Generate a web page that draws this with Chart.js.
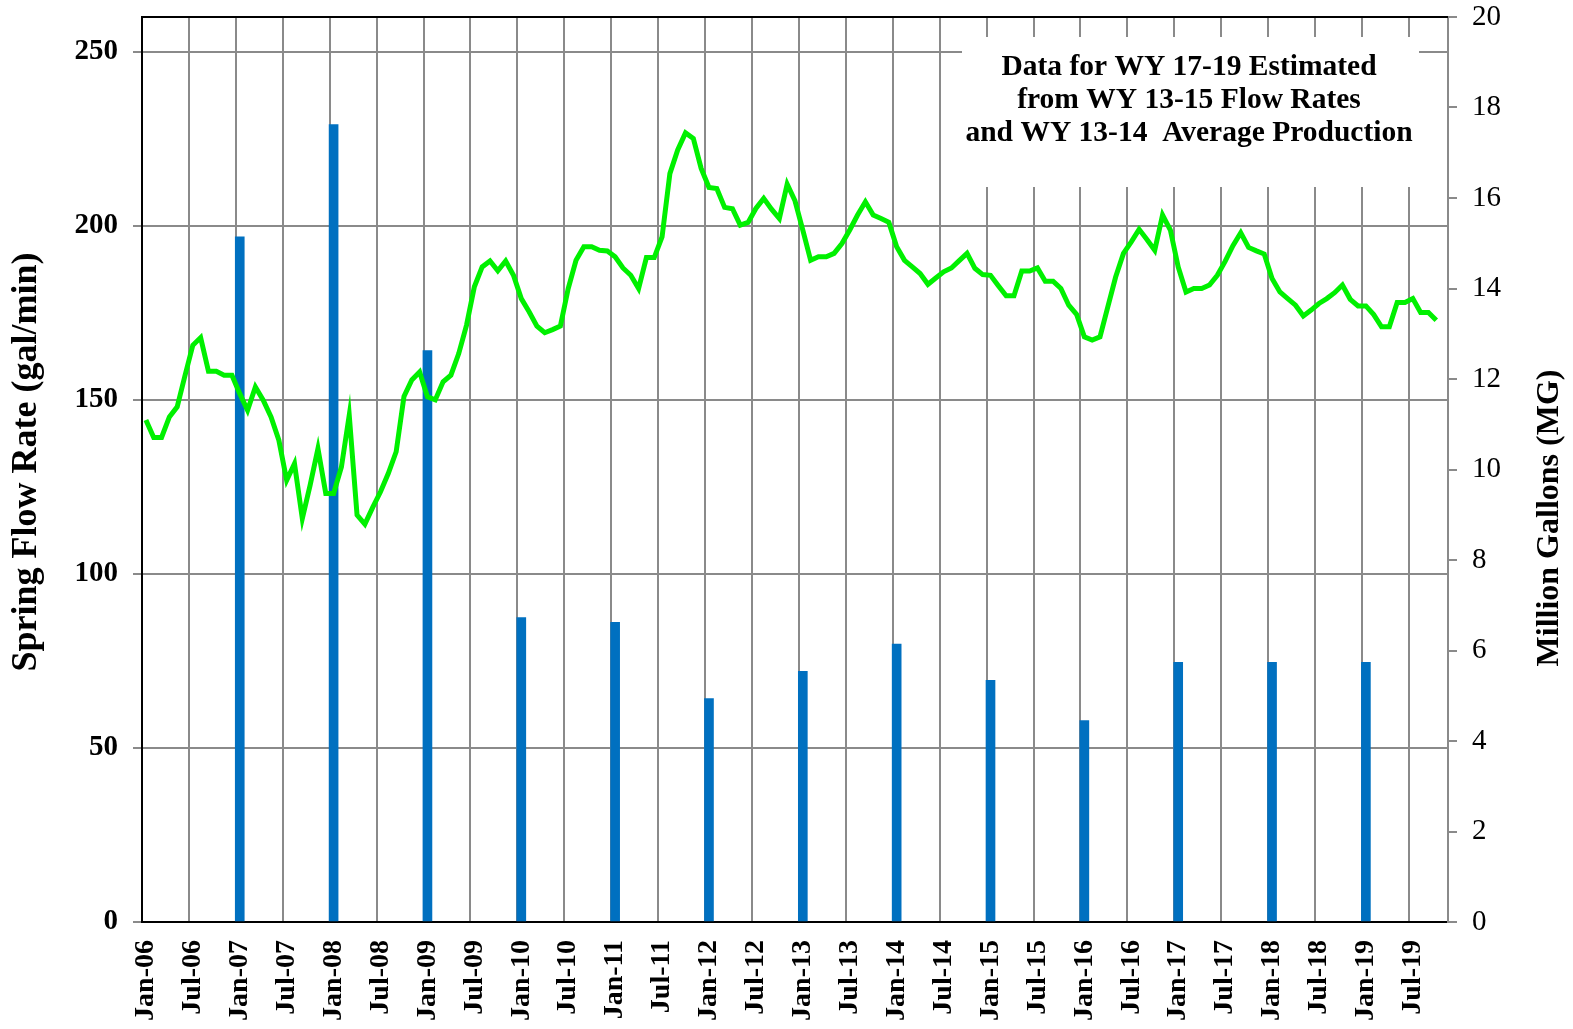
<!DOCTYPE html>
<html>
<head>
<meta charset="utf-8">
<script src="https://cdn.jsdelivr.net/npm/chart.js@4.4.0/dist/chart.umd.min.js"></script>
<style>
  html, body { margin: 0; padding: 0; background: #fff; }
  #wrap { width: 1573px; height: 1029px; position: relative; }
</style>
</head>
<body>
<div id="wrap"><canvas id="chart"></canvas></div>
<script>
// --- data ---
const MONTHS = ["Jan", "Feb", "Mar", "Apr", "May", "Jun", "Jul", "Aug", "Sep", "Oct", "Nov", "Dec"];
const FIRST_YEAR = 2006;
const LAST_YEAR = 2019;
const LAST_MONTH = 10; // Nov-19 closes the axis

// spring flow rate, gal/min, monthly from Jan-06
const flowRate = [
    144.2, 139.2, 139.2, 145.1, 148.0, 157.0, 165.7, 167.9, 158.2, 158.2, 157.1, 157.1,
    151.8, 147.0, 153.7, 149.9, 145.1, 138.4, 126.9, 131.7, 115.9, 125.5, 136.0, 123.1,
    123.1, 130.7, 145.6, 116.9, 114.3, 119.1, 123.6, 128.9, 135.1, 151.0, 155.7, 158.0,
    150.9, 150.0, 155.2, 157.1, 163.3, 171.5, 182.5, 188.2, 189.9, 187.1, 189.9, 185.8,
    179.1, 175.3, 171.2, 169.3, 170.2, 171.2, 182.0, 190.1, 194.0, 194.0, 193.0, 192.8,
    191.1, 187.9, 185.8, 182.0, 190.9, 190.9, 196.8, 215.0, 221.8, 226.7, 225.1, 216.5,
    211.0, 210.7, 205.3, 204.9, 200.2, 201.0, 205.0, 207.9, 204.8, 202.1, 212.0, 207.2,
    198.8, 190.1, 191.1, 191.1, 192.1, 194.9, 198.8, 203.1, 206.9, 203.1, 202.1, 201.0,
    194.0, 190.1, 188.2, 186.3, 183.2, 185.0, 186.8, 187.9, 190.0, 192.1, 187.8, 186.0,
    185.8, 182.8, 179.9, 179.9, 187.0, 187.0, 187.9, 184.1, 184.1, 182.0, 177.2, 174.6,
    168.1, 167.2, 168.1, 176.7, 185.3, 192.1, 195.4, 199.0, 196.1, 193.0, 203.1, 198.8,
    188.2, 181.0, 182.0, 182.0, 183.0, 185.8, 189.8, 194.3, 198.0, 193.8, 192.8, 191.9,
    184.9, 181.0, 179.1, 177.2, 174.1, 175.8, 177.7, 179.1, 180.8, 183.0, 178.9, 177.0,
    177.0, 174.5, 171.0, 171.0, 178.0, 178.0, 179.1, 175.1, 175.1, 172.9,
];

// production, million gallons
const prodMonths = ["Jan-07", "Jan-08", "Jan-09", "Jan-10", "Jan-11", "Jan-12", "Jan-13",
    "Jan-14", "Jan-15", "Jan-16", "Jan-17", "Jan-18", "Jan-19"];
const prodMG = [15.14, 17.62, 12.63, 6.73, 6.62, 4.94, 5.54, 6.14, 5.34, 4.45, 5.74, 5.74, 5.74];

const noteLines = [
    "Data for WY 17-19 Estimated",
    "from WY 13-15 Flow Rates",
    "and WY 13-14  Average Production",
];

// --- build ---
const labels = [];
for (let y = FIRST_YEAR; y <= LAST_YEAR; y++) {
    for (let m = 0; m < 12; m++) {
        if (y === LAST_YEAR && m > LAST_MONTH) break;
        labels.push(`${MONTHS[m]}-${String(y).slice(2)}`);
    }
}
const prodData = labels.map(l => {
    const k = prodMonths.indexOf(l);
    return k >= 0 ? prodMG[k] : null;
});

const SERIF = "'Liberation Serif', 'Times New Roman', serif";
const GRID = "#8a8a8a";

// kill the auto padding chart.js reserves for edge labels
function noPad(s) {
    s.paddingTop = 0;
    s.paddingBottom = 0;
    s.paddingLeft = 0;
    s.paddingRight = 0;
}

const decor = {
    id: "decor",
    beforeDatasetsDraw(chart) {
        const c = chart.ctx;
        c.save();
        c.fillStyle = "#fff";
        c.fillRect(962, 37, 457, 150);
        c.fillStyle = "#000";
        c.font = `bold 29.5px ${SERIF}`;
        c.textAlign = "center";
        c.textBaseline = "alphabetic";
        noteLines.forEach((t, i) => c.fillText(t, 1189, 75 + i * 33));
        c.restore();
    },
    afterDraw(chart) {
        const c = chart.ctx;
        const a = chart.chartArea;
        c.save();
        c.strokeStyle = "#000";
        c.lineWidth = 2;
        c.beginPath();
        c.moveTo(a.left, a.top);
        c.lineTo(a.right, a.top);
        c.stroke();

        c.fillStyle = "#000";
        c.textAlign = "center";
        c.textBaseline = "alphabetic";
        c.font = `bold 36px ${SERIF}`;
        c.translate(36, 462);
        c.rotate(-Math.PI / 2);
        c.fillText("Spring Flow Rate (gal/min)", 0, 0);
        c.restore();

        c.save();
        c.fillStyle = "#000";
        c.textAlign = "center";
        c.textBaseline = "alphabetic";
        c.font = `bold 32px ${SERIF}`;
        c.translate(1558, 518);
        c.rotate(-Math.PI / 2);
        c.fillText("Million Gallons (MG)", 0, 0);
        c.restore();
    },
};

new Chart(document.getElementById("chart"), {
    type: "bar",
    data: {
        labels,
        datasets: [
            {
                type: "line",
                label: "Spring Flow Rate",
                data: flowRate,
                yAxisID: "y",
                borderColor: "#00f000",
                borderWidth: 5,
                pointRadius: 0,
                tension: 0,
                order: 0,
            },
            {
                type: "bar",
                label: "Production",
                data: prodData,
                yAxisID: "y2",
                backgroundColor: "#0070c0",
                barThickness: 9,
                order: 1,
            },
        ],
    },
    options: {
        responsive: true,
        maintainAspectRatio: false,
        animation: false,
        layout: { padding: { top: 17, left: 0, right: 0, bottom: 0 } },
        plugins: { legend: { display: false }, tooltip: { enabled: false } },
        scales: {
            x: {
                type: "category",
                offset: true,
                grid: {
                    offset: true,
                    drawTicks: false,
                    lineWidth: 2,
                    color: ctx => (ctx.index % 6 === 0 ? GRID : "rgba(0,0,0,0)"),
                },
                border: { color: "#000", width: 2 },
                ticks: {
                    autoSkip: false,
                    minRotation: 90,
                    maxRotation: 90,
                    padding: 18,
                    color: "#000",
                    font: { family: SERIF, size: 28, weight: "bold" },
                    callback: (v, i) => (i % 6 === 0 ? labels[i] : ""),
                },
                afterFit: s => { s.height = 107; noPad(s); },
            },
            y: {
                position: "left",
                min: 0,
                max: 260,
                ticks: {
                    stepSize: 50,
                    padding: 15,
                    color: "#000",
                    font: { family: SERIF, size: 29, weight: "bold" },
                },
                afterBuildTicks: s => { s.ticks = s.ticks.filter(t => t.value % 50 === 0); },
                grid: { color: GRID, lineWidth: 2, tickLength: 9 },
                border: { color: "#000", width: 2 },
                afterFit: s => { s.width = 142; noPad(s); },
            },
            y2: {
                position: "right",
                min: 0,
                max: 20,
                ticks: {
                    stepSize: 2,
                    padding: 15,
                    color: "#000",
                    font: { family: SERIF, size: 29 },
                },
                grid: { drawOnChartArea: false, color: GRID, lineWidth: 2, tickLength: 9 },
                border: { color: GRID, width: 2 },
                afterFit: s => { s.width = 125; noPad(s); },
            },
        },
    },
    plugins: [decor],
});
</script>
</body>
</html>
